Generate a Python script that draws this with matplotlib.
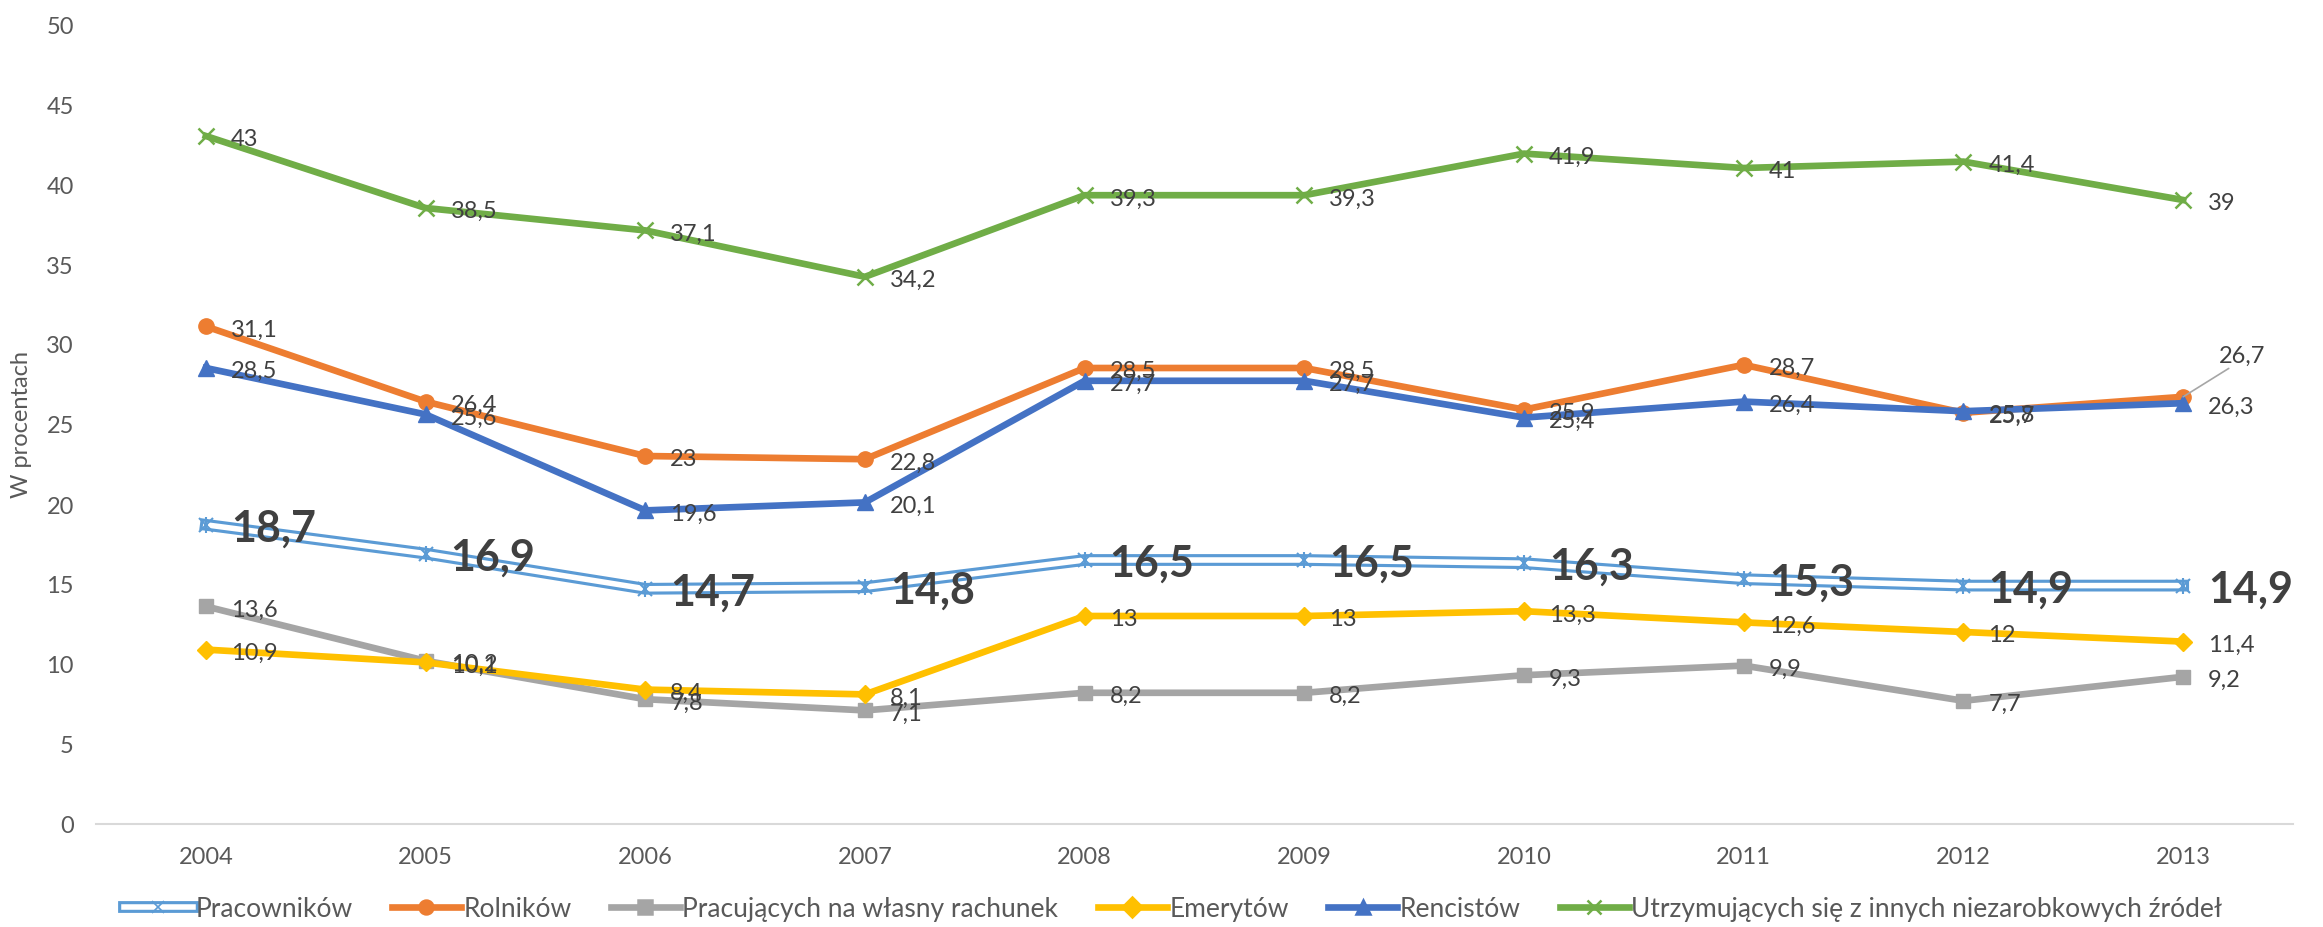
import matplotlib.pyplot as plt

plt.rcParams['font.family'] = ['Lato', 'DejaVu Sans']

years = ['2004', '2005', '2006', '2007', '2008', '2009', '2010', '2011', '2012', '2013']

pracownikow = [18.7, 16.9, 14.7, 14.8, 16.5, 16.5, 16.3, 15.3, 14.9, 14.9]
rolnikow = [31.1, 26.4, 23.0, 22.8, 28.5, 28.5, 25.9, 28.7, 25.7, 26.7]
wlasny_rachunek = [13.6, 10.2, 7.8, 7.1, 8.2, 8.2, 9.3, 9.9, 7.7, 9.2]
emerytow = [10.9, 10.1, 8.4, 8.1, 13.0, 13.0, 13.3, 12.6, 12.0, 11.4]
rencistow = [28.5, 25.6, 19.6, 20.1, 27.7, 27.7, 25.4, 26.4, 25.8, 26.3]
niezarobkowe = [43.0, 38.5, 37.1, 34.2, 39.3, 39.3, 41.9, 41.0, 41.4, 39.0]

series_names = ['Pracowników', 'Rolników', 'Pracujących na własny rachunek',
                'Emerytów', 'Rencistów', 'Utrzymujących się z innych niezarobkowych źródeł']

label_color = '#404040'
tick_color = '#595959'
fs = 17


def fmt(v):
    return f'{v:g}'.replace('.', ',')


fig = plt.figure(figsize=(23.23, 9.28), dpi=100)
ax = fig.add_axes([96 / 2323, 103 / 928, (2293 - 96) / 2323, 800 / 928])
x = list(range(len(years)))

# Pracowników: double line (blue outline with white core)
ax.plot(x, pracownikow, color='#5B9BD5', lw=8.5, solid_joinstyle='round', zorder=2)
ax.plot(x, pracownikow, color='white', lw=4.0, solid_joinstyle='round', zorder=2.1)
ax.plot(x, pracownikow, ls='none', marker='x', ms=10, mew=1.5, color='#5B9BD5', zorder=2.2)
ax.plot(x, pracownikow, ls='none', marker='|', ms=12, mew=1.5, color='#5B9BD5', zorder=2.2)

ax.plot(x, rolnikow, color='#ED7D31', lw=4.8, marker='o', ms=11, zorder=3)
ax.plot(x, wlasny_rachunek, color='#A5A5A5', lw=4.8, marker='s', ms=10, zorder=4)
ax.plot(x, emerytow, color='#FFC000', lw=4.8, marker='D', ms=9, zorder=5)
ax.plot(x, rencistow, color='#4472C4', lw=4.8, marker='^', ms=11, zorder=6)
ax.plot(x, niezarobkowe, color='#70AD47', lw=4.8, marker='x', ms=11, mew=1.8, zorder=7)

# data labels
for i, v in enumerate(pracownikow):
    ax.annotate(fmt(v), (i, v), xytext=(18, -2), textcoords='offset points',
                va='center', ha='left', fontsize=31, fontweight='bold',
                color=label_color, zorder=10)

for values in [rolnikow, wlasny_rachunek, emerytow, rencistow, niezarobkowe]:
    for i, v in enumerate(values):
        if values is rolnikow and i == len(values) - 1:
            ax.annotate(fmt(v), (i, v), xytext=(26, 30), textcoords='offset points',
                        va='center', ha='left', fontsize=fs, color=label_color,
                        arrowprops=dict(arrowstyle='-', color='#A6A6A6', lw=1.2,
                                        shrinkA=0, shrinkB=0, relpos=(0.3, 0)),
                        zorder=10)
            continue
        ax.annotate(fmt(v), (i, v), xytext=(18, -2), textcoords='offset points',
                    va='center', ha='left', fontsize=fs, color=label_color, zorder=10)

ax.set_xlim(-0.5, len(years) - 0.5)
ax.set_ylim(0, 50)
ax.set_yticks(range(0, 51, 5))
ax.set_xticks(x)
ax.set_xticklabels(years)
ax.tick_params(length=0, labelsize=fs, labelcolor=tick_color)
ax.tick_params(axis='y', pad=16)
ax.tick_params(axis='x', pad=16)
ax.set_ylabel('W procentach', fontsize=fs, color=tick_color, labelpad=10)

for side in ['left', 'right', 'top']:
    ax.spines[side].set_visible(False)
ax.spines['bottom'].set_color('#D9D9D9')
ax.spines['bottom'].set_linewidth(1.5)

# legend handles
h_prac = ax.plot([], [], color='#5B9BD5', lw=8.5)[0]
h_prac_w = ax.plot([], [], color='white', lw=4.0, marker='x', ms=9, mew=1.2,
                   markeredgecolor='#5B9BD5')[0]
handles = [(h_prac, h_prac_w)]
for c, m in [('#ED7D31', 'o'), ('#A5A5A5', 's'), ('#FFC000', 'D'), ('#4472C4', '^'), ('#70AD47', 'x')]:
    handles.append(ax.plot([], [], color=c, lw=4.8, marker=m, ms=10, mew=1.8)[0])

fig.legend(handles, series_names, loc='center', bbox_to_anchor=(0.505, 0.02), ncol=6,
           frameon=False, fontsize=19, handlelength=2.6, handletextpad=0.1,
           columnspacing=1.5, labelcolor=tick_color)

fig.savefig('out.png', dpi=100)
